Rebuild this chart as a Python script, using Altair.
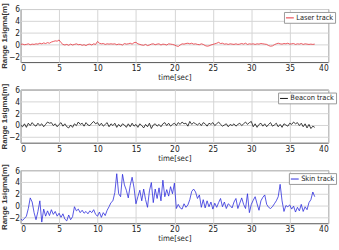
import altair as alt
import pandas as pd

STEP = 0.25  # sampling interval of the listed values, seconds

laser = [
    0.0, 0.05, -0.05, 0.0, 0.1, -0.05, 0.05, 0.0,
    0.1, 0.05, 0.2, 0.1, 0.25, 0.15, 0.3, 0.2,
    0.4, 0.5, 0.6, 0.55, 0.75, 0.3, 0.0, -0.1,
    0.0, -0.15, 0.05, -0.1, 0.0, 0.1, -0.05, 0.0,
    -0.15, -0.05, -0.2, 0.0, 0.05, -0.1, 0.1, 0.0,
    0.5, 0.2, 0.1, 0.15, 0.0, 0.1, 0.05, 0.1,
    0.05, 0.1, -0.05, 0.05, 0.0, -0.1, 0.15, 0.05,
    0.1, 0.2, 0.05, 0.3, 0.35, 0.1, 0.0, -0.1,
    -0.15, 0.0, -0.2, -0.1, 0.05, 0.1, -0.05, 0.05,
    0.1, -0.1, 0.05, 0.0, -0.1, 0.1, 0.05, 0.0,
    -0.1, -0.25, -0.35, -0.1, 0.1, 0.05, 0.15, 0.2,
    0.1, 0.2, 0.05, 0.1, 0.0, -0.05, 0.1, 0.0,
    -0.2, -0.3, -0.25, -0.1, 0.0, 0.1, 0.2, 0.35,
    0.15, 0.2, 0.05, 0.1, 0.0, 0.1, 0.05, 0.0,
    0.1, 0.0, 0.05, 0.15, 0.05, 0.2, 0.0, 0.1,
    0.05, 0.1, 0.0, 0.1, 0.05, 0.15, 0.1, 0.05,
    0.0, -0.2, -0.3, -0.25, -0.05, 0.1, 0.2, 0.1,
    0.05, 0.15, 0.1, 0.2, 0.05, 0.1, 0.15, 0.0,
    0.1, 0.05, 0.15, 0.0, 0.1, 0.05, 0.0, 0.05,
    0.0, 0.05,
]

beacon = [
    0.0, -0.3, 0.2, -0.4, 0.3, -0.1, 0.4, 0.0,
    -0.2, 0.3, -0.1, 0.2, -0.3, 0.1, 0.5, 0.3,
    0.4, -0.1, 0.2, -0.3, 0.1, 0.4, -0.2, 0.2,
    -0.3, -0.5, 0.0, -0.4, 0.2, -0.1, 0.5, 0.1,
    0.3, -0.2, 0.4, 0.0, -0.1, 0.3, 0.6, 0.2,
    0.4, -0.1, 0.3, -0.2, 0.1, 0.4, -0.3, 0.2,
    -0.1, 0.3, -0.4, 0.1, -0.3, 0.2, 0.0, -0.4,
    0.2, -0.3, 0.3, -0.2, 0.1, -0.4, 0.2, -0.1,
    -0.5, 0.1, -0.3, 0.3, -0.6, 0.0, 0.2, -0.2,
    0.1, -0.3, 0.2, 0.4, -0.1, 0.3, -0.2, 0.1,
    0.3, -0.1, 0.4, 0.1, 0.5, 0.2, 0.3, -0.2,
    0.6, 0.1, 0.4, 0.2, 0.0, 0.3, -0.1, 0.4,
    0.2, -0.2, 0.3, 0.1, 0.4, -0.1, 0.2, 0.5,
    0.1, -0.2, 0.0, 0.2, -0.3, 0.1, -0.1, 0.2,
    -0.2, 0.1, 0.3, -0.1, 0.2, 0.5, 0.1, 0.4,
    0.6, -0.3, 0.2, -0.4, 0.1, 0.3, -0.2, 0.2,
    -0.3, 0.1, 0.4, -0.2, 0.0, 0.3, -0.3, 0.1,
    -0.4, 0.2, 0.0, -0.2, 0.3, 0.1, 0.5, 0.2,
    0.4, -0.1, 0.3, -0.3, 0.2, -0.5, 0.1, -0.6,
    -0.2, -0.4,
]

skin = [
    -2.3, -2.5, -2.2, -1.8, -0.5, 1.3, 0.6, -1.2,
    -2.4, -1.0, 0.8, -2.8, -0.6, -1.8, -0.9, -1.7,
    -0.7, -1.5, -1.0, -1.8, -1.3, -2.0, -1.4, -2.3,
    -2.6, -1.6, -2.4, -1.9, -0.2, -0.9, -0.6, -1.2,
    -0.8, -1.3, -1.0, -1.4, -0.9, -1.2, -0.7, -1.5,
    -1.8, -1.1, -2.0, -1.2, -1.7, -0.8, -0.2, 0.5,
    0.8, 2.2, 5.4, 2.0, 1.5, 5.3, 3.5, 2.6,
    1.3, 3.4, 4.8, 3.0, 0.3, 1.5, 2.6, 0.8,
    2.8, 1.0, -0.3, 2.5, 3.9, 0.5, 2.8, 1.2,
    3.0, 0.8, 4.3, 1.5, 2.7, 1.6, 3.2, 2.0,
    3.8, -0.5, 0.2, -0.4, -0.6, 0.3, -0.3, 0.1,
    1.0, 2.4, 2.8, 2.3, 1.2, 1.8, -0.3, 1.0,
    -0.4, 0.8, -0.2, 0.6, -0.6, 0.4, -0.3, 0.5,
    1.2, -0.2, 0.6, -0.5, 0.3, 0.0, -0.4, 0.6,
    1.2, -0.5, 0.4, 1.3, 0.2, -0.5, 2.0, -1.2,
    0.2, 0.9, 1.5, 0.3, -0.8, 0.8, 1.4, 1.8,
    0.2, -0.3, -0.5, -0.2, 0.3, 0.8, 1.5, 3.6,
    0.8, -1.0, 0.0, -0.2, 0.1, -0.6, -0.1, -1.1,
    -0.3, -0.9, 0.2, -1.0, -0.2, -0.7, 0.5, 1.0,
    2.3, 1.5,
]

x_ticks = [0, 5, 10, 15, 20, 25, 30, 35, 40]
y_ticks = [-2, 0, 2, 4, 6]

FONT = "Liberation Sans, Arial, sans-serif"
NARROW = "'Liberation Sans Narrow', 'DejaVu Sans Condensed', 'Liberation Sans', sans-serif"


def panel(values, name, color, legend_x):
    df = pd.DataFrame({
        "time": [i * STEP for i in range(len(values))],
        "value": values,
        "series": [name] * len(values),
    })
    return alt.Chart(df).mark_line(strokeWidth=0.8, clip=True).encode(
        x=alt.X("time:Q", scale=alt.Scale(domain=[0, 40], nice=False, zero=False),
                axis=alt.Axis(values=x_ticks, title="time[sec]", ticks=False,
                              labelPadding=1.5, titlePadding=2,
                              labelFont=NARROW, labelFontSize=8.5,
                              titleFont=NARROW, titleFontSize=8, titleFontWeight="normal",
                              titleColor="#222", labelColor="#222",
                              gridColor="#d4d4d4", domain=False)),
        y=alt.Y("value:Q", scale=alt.Scale(domain=[-3, 6], nice=False, zero=False),
                axis=alt.Axis(values=y_ticks, title="Range 1sigma[m]", ticks=False,
                              labelPadding=1, titlePadding=0,
                              labelFont=NARROW, labelFontSize=8.5,
                              titleFont=FONT, titleFontSize=8, titleFontWeight="bold",
                              titleColor="#333", labelColor="#222",
                              gridColor="#d4d4d4", domain=False)),
        color=alt.Color("series:N", scale=alt.Scale(domain=[name], range=[color]),
                        legend=alt.Legend(title=None, orient="none",
                                          legendX=legend_x, legendY=3,
                                          symbolType="stroke", symbolSize=64,
                                          symbolStrokeWidth=1, labelFont=NARROW,
                                          labelFontSize=7.5, labelColor="#222",
                                          strokeColor="#999", fillColor="white",
                                          padding=1.5, labelOffset=2)),
    ).properties(width=313, height=54)


chart = alt.vconcat(
    panel(laser, "Laser track", "#e8303a", 268),
    panel(beacon, "Beacon track", "#111111", 262),
    panel(skin, "Skin track", "#2b2bdc", 273),
    spacing=28,
    bounds="flush",
).resolve_scale(color="independent").resolve_legend(color="independent").configure_view(
    stroke="#555555", strokeWidth=1
).properties(padding={"left": 0, "top": 0, "right": 2, "bottom": 2}, background="white")

chart.save("out.html", embed_options={"renderer": "svg", "actions": False})
